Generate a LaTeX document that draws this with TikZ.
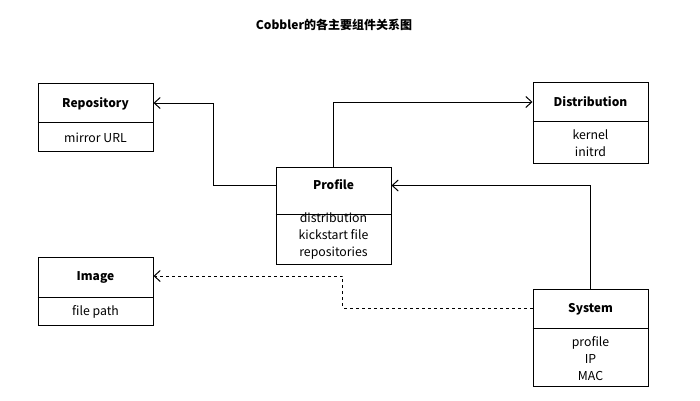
\documentclass[tikz,border=0pt]{standalone}
\usepackage{fontspec}
\setmainfont{Noto Sans CJK SC}
\usetikzlibrary{arrows.meta}
\begin{document}
\begin{tikzpicture}[x=1pt,y=-1pt,
  box/.style={draw, line width=1pt, minimum width=115pt, inner sep=0pt},
  ttl/.style={font=\bfseries\fontsize{12}{14}\selectfont, inner sep=0pt, text height=8.8pt, text depth=0pt},
  bodytext/.style={font=\fontsize{12.3}{17}\selectfont, align=center, inner sep=0pt},
  divline/.style={line width=1pt},
  arr/.style={line width=1pt, -{Straight Barb[length=6pt,width=11pt]}},
  dep/.style={arr, dash pattern=on 3pt off 3pt}]
\useasboundingbox[fill=white] (0,0) rectangle (700,400);
\node[ttl] (title) at (334,25) {Cobbler的各主要组件关系图};
% Repository
\node[box, minimum height=68pt] (repo) at (95.5,117) {};
\draw[divline] (repo.west |- 0,122) -- (repo.east |- 0,122);
\node[ttl] (repoT) at (95.5,103) {Repository};
\node[bodytext] (repoB) at (95.5,137.5) {mirror URL};
% Image
\node[box, minimum height=68pt] (img) at (95.5,291) {};
\draw[divline] (img.west |- 0,297) -- (img.east |- 0,297);
\node[ttl] (imgT) at (95.5,276) {Image};
\node[bodytext] (imgB) at (95.5,311.5) {file path};
% Profile
\node[box, minimum height=97pt] (prof) at (333.5,215.5) {};
\draw[divline] (prof.west |- 0,214) -- (prof.east |- 0,214);
\node[ttl] (profT) at (333.5,185.5) {Profile};
\node[bodytext] (profB) at (333.5,236) {distribution\\kickstart file\\repositories};
% Distribution
\node[box, minimum height=81pt] (dist) at (590.5,122.5) {};
\draw[divline] (dist.west |- 0,121) -- (dist.east |- 0,121);
\node[ttl] (distT) at (590.5,102) {Distribution};
\node[bodytext] (distB) at (590.5,143) {kernel\\initrd};
% System
\node[box, minimum height=97pt] (sys) at (590.5,337.5) {};
\draw[divline] (sys.west |- 0,328) -- (sys.east |- 0,328);
\node[ttl] (sysT) at (590.5,308) {System};
\node[bodytext] (sysB) at (590.5,358.5) {profile\\IP\\MAC};
% connectors
\draw[arr] (profT -| prof.west) -- ++(-62,0) |- (repoT -| repo.east);
\draw[arr] (prof.north) |- (distT -| dist.west);
\draw[arr] (sys.north) |- (profT -| prof.east);
\draw[dep] (sysT -| sys.west) -- ++(-190,0) |- (imgT -| img.east);
\end{tikzpicture}
\end{document}
